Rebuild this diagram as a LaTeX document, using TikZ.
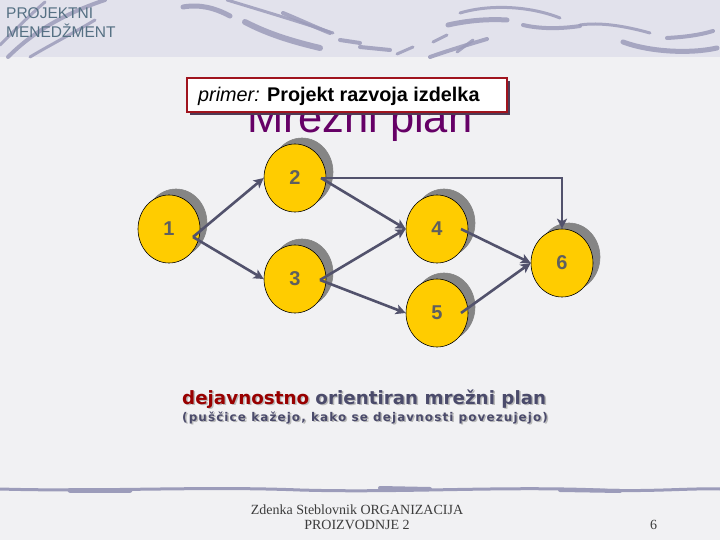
\documentclass[tikz,border=0pt]{standalone}
\usepackage{fontspec}
\setmainfont{Liberation Sans}
\newfontfamily\vfont{DejaVu Sans}
\newfontfamily\vfontsp[LetterSpace=9]{DejaVu Sans}
\newfontfamily\serfont{Liberation Serif}
\usetikzlibrary{shapes.geometric,shadows,arrows.meta}
\definecolor{evfill}{HTML}{FFCC00}
\definecolor{labgray}{HTML}{5F5F5F}
\definecolor{shadowgray}{HTML}{858585}
\definecolor{arrc}{HTML}{52526C}
\definecolor{titlepurple}{HTML}{660066}
\definecolor{boxred}{HTML}{A0141E}
\definecolor{boxshadow}{HTML}{4F3A55}
\definecolor{hdr}{HTML}{557083}
\definecolor{redtxt}{HTML}{990000}
\definecolor{blutxt}{HTML}{4B4B6B}
\definecolor{bgc}{HTML}{F1F1F3}
\definecolor{bandc}{HTML}{E2E2EC}
\definecolor{swc}{HTML}{9C9CBA}
\definecolor{foot}{HTML}{3C3C3C}
\tikzset{
  ev/.style={ellipse, draw=black, line width=0.6pt, fill=evfill,
    minimum width=62pt, minimum height=68pt, inner sep=0pt,
    font=\bfseries\fontsize{20}{20}\selectfont, text=labgray,
    general shadow={fill=shadowgray, draw=shadowgray, shadow xshift=7pt, shadow yshift=6pt}},
  arr/.style={draw=arrc, line width=2.6pt, -{Stealth[length=10pt,width=10pt,inset=2.5pt]}},
  sw/.style={draw=swc, line cap=round, opacity=0.85},
}
\begin{document}
\begin{tikzpicture}[x=1pt,y=-1pt]
\useasboundingbox (0,0) rectangle (720,540);
\fill[bgc] (0,0) rectangle (720,540);
\fill[bandc] (0,0) rectangle (720,57);
% swooshes (top band)
\draw[sw, line width=4] (8,57) .. controls (30,35) and (60,15) .. (105,0);
\draw[sw, line width=3] (0,45) .. controls (15,30) and (30,15) .. (45,2);
\draw[sw, line width=3] (30,57) .. controls (50,45) and (70,35) .. (95,20);
\draw[sw, line width=5] (183,7) .. controls (200,4) and (215,8) .. (230,16);
\draw[sw, line width=3] (227,0) .. controls (260,10) and (300,22) .. (333,33);
\draw[sw, line width=6] (245,22) .. controls (270,35) and (295,42) .. (320,48);
\draw[sw, line width=4] (283,13) .. controls (300,20) and (315,27) .. (330,33);
\draw[sw, line width=4] (340,40) -- (360,43);
\draw[sw, line width=4] (360,47) .. controls (370,48) and (380,49) .. (390,50);
\draw[sw, line width=3] (397,54) -- (413,47);
\draw[sw, line width=4] (430,57) .. controls (450,50) and (470,44) .. (487,39);
\draw[sw, line width=3] (433,42) -- (447,35);
\draw[sw, line width=3] (457,52) -- (473,40);
\draw[sw, line width=5] (448,25) .. controls (470,20) and (490,19) .. (507,20);
\draw[sw, line width=3] (460,13) .. controls (490,4) and (530,6) .. (560,18);
\draw[sw, line width=4] (523,25) .. controls (540,29) and (560,29) .. (580,26);
\draw[sw, line width=3] (580,25) .. controls (600,22) and (625,26) .. (650,33);
\draw[sw, line width=5] (623,42) .. controls (650,52) and (690,54) .. (717,48);
\draw[sw, line width=4] (667,38) .. controls (685,37) and (700,35) .. (713,31);
% bottom line
\draw[swc, line width=3, line cap=round] (0,489) .. controls (100,492) and (200,486) .. (300,490)
  .. controls (400,493) and (500,486) .. (600,490) .. controls (650,492) and (690,488) .. (720,489);
\draw[swc, line width=5, line cap=round] (70,490) -- (130,490);
\draw[swc, line width=4, line cap=round] (380,488) -- (430,489);
\draw[swc, line width=4, line cap=round] (560,490) -- (620,491);
% header
\node[anchor=base west, inner sep=0, text=hdr, font=\fontsize{15.5}{15.5}\selectfont] (h1) at (6,19) {PROJEKTNI};
\node[anchor=base west, inner sep=0, text=hdr, font=\fontsize{15.5}{15.5}\selectfont] (h2) at (6,38) {MENEDŽMENT};
% title
\node[anchor=base, inner sep=0, text=titlepurple, font=\fontsize{43.5}{43.5}\selectfont] (title) at (360,133) {Mrežni plan};
\fill[boxshadow] (190,81) rectangle (510,115);
\draw[boxred, fill=white, line width=2.5pt] (187,78) rectangle (507,112);
\node[anchor=base west, inner sep=0, font=\fontsize{19.8}{19.8}\selectfont] (prim) at (198,102) {\textit{primer:} \textbf{Projekt razvoja izdelka}};
% nodes
\node[ev] (n1) at (169,229) {1};
\node[ev] (n2) at (295,178) {2};
\node[ev] (n3) at (295,279) {3};
\node[ev] (n4) at (437,229) {4};
\node[ev] (n5) at (437,313) {5};
\node[ev] (n6) at (562,263) {6};
\coordinate (s1) at (193,237);
\coordinate (s2) at (321,178);
\coordinate (s3) at (320,280);
\coordinate (s4) at (461,229);
\coordinate (s5) at (461,313);
\draw[arr] (s1) -- (n2.west);
\draw[arr] (s1) -- (n3.west);
\draw[arr] (s2) -- (n4.west);
\draw[arr] (s3) -- (n4.west);
\draw[arr] (s3) -- (n5.west);
\draw[arr] (s4) -- (n6.west);
\draw[arr] (s5) -- (n6.west);
\draw[arr] (s2) -| (n6.north);
% bottom caption
\node[anchor=base west, inner sep=0, text=gray!55, font=\vfont\bfseries\fontsize{18.3}{18.3}\selectfont] (c1s) at (183.5,405.5) {dejavnostno orientiran mrežni plan};
\node[anchor=base west, inner sep=0, font=\vfont\bfseries\fontsize{18.3}{18.3}\selectfont] (c1) at (182,404) {\textcolor{redtxt}{dejavnostno} \textcolor{blutxt}{orientiran mrežni plan}};
\node[anchor=base west, inner sep=0, text=gray!55, font=\vfontsp\bfseries\fontsize{12}{12}\selectfont] (c2s) at (183.5,422.5) {(puščice kažejo, kako se dejavnosti povezujejo)};
\node[anchor=base west, inner sep=0, text=blutxt, font=\vfontsp\bfseries\fontsize{12}{12}\selectfont] (c2) at (182,421) {(puščice kažejo, kako se dejavnosti povezujejo)};
% footer
\node[anchor=base, inner sep=0, text=foot, font=\serfont\fontsize{14}{14}\selectfont] (f1) at (357,514) {Zdenka Steblovnik ORGANIZACIJA};
\node[anchor=base, inner sep=0, text=foot, font=\serfont\fontsize{14}{14}\selectfont] (f2) at (357,529) {PROIZVODNJE 2};
\node[anchor=base west, inner sep=0, text=foot, font=\serfont\fontsize{14}{14}\selectfont] (pg) at (650,529) {6};
\end{tikzpicture}
\end{document}
